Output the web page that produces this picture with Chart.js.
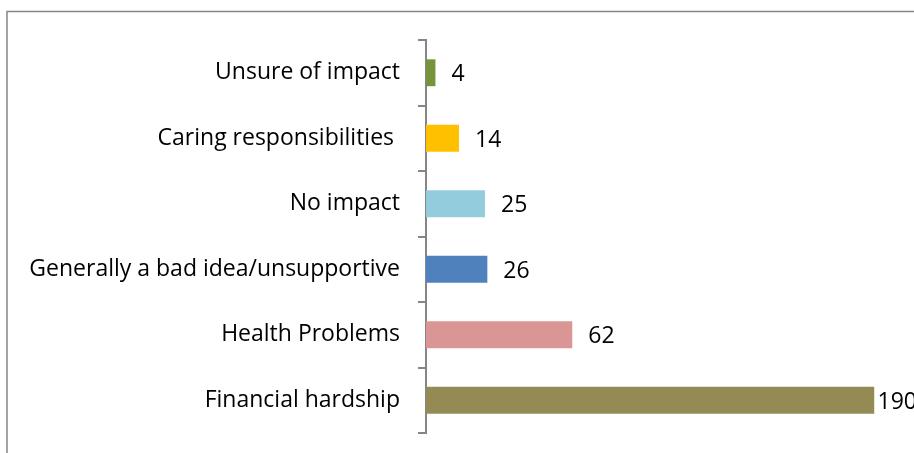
<!DOCTYPE html>
<html>
<head>
<meta charset="utf-8">
<script src="https://cdn.jsdelivr.net/npm/chart.js@4/dist/chart.umd.min.js"></script>
<style>
  html, body { margin: 0; padding: 0; background: #fff; overflow: hidden; }
  #wrap { width: 960px; height: 453px; position: relative; }
</style>
</head>
<body>
<div id="wrap"><canvas id="myChart"></canvas></div>
<script>
const categories = [
  'Unsure of impact',
  'Caring responsibilities ',
  'No impact',
  'Generally a bad idea/unsupportive',
  'Health Problems',
  'Financial hardship'
];
const counts = [4, 14, 25, 26, 62, 190];
const barColors = ['#77933C', '#FFC000', '#93CDDD', '#4F81BD', '#D99694', '#948A54'];

const labelFont = '23px "Open Sans", sans-serif';

// outer frame, running off the right and bottom edges
const framePlugin = {
  id: 'frame',
  beforeDraw(chart) {
    const c = chart.ctx;
    c.save();
    c.strokeStyle = '#868686';
    c.lineWidth = 1.5;
    c.strokeRect(7, 11.5, chart.width + 20, chart.height + 20);
    c.restore();
  }
};

// count printed just past the end of each bar
const valuePlugin = {
  id: 'values',
  afterDatasetsDraw(chart) {
    const c = chart.ctx;
    const meta = chart.getDatasetMeta(0);
    c.save();
    c.font = labelFont;
    c.fillStyle = '#000';
    c.textBaseline = 'middle';
    meta.data.forEach((bar, i) => {
      const txt = String(counts[i]);
      const w = c.measureText(txt).width;
      const x = Math.min(bar.x + 16, chart.chartArea.right - w - 28);
      c.fillText(txt, x, bar.y + 2);
    });
    c.restore();
  }
};

new Chart(document.getElementById('myChart'), {
  type: 'bar',
  data: {
    labels: categories,
    datasets: [{
      data: counts,
      backgroundColor: barColors,
      categoryPercentage: 1,
      barPercentage: 0.41
    }]
  },
  options: {
    indexAxis: 'y',
    responsive: true,
    maintainAspectRatio: false,
    animation: false,
    layout: { padding: { top: 40, bottom: 20, left: 0, right: 15 } },
    plugins: { legend: { display: false }, tooltip: { enabled: false } },
    scales: {
      x: { display: false, min: 0, max: 220 },
      y: {
        afterFit(scale) {
          scale.width = 426;
          scale.paddingTop = 0;
          scale.paddingBottom = 0;
        },
        border: { color: '#868686', width: 2 },
        grid: { drawOnChartArea: false, drawTicks: true, tickLength: 8, color: '#868686', lineWidth: 2, offset: true },
        ticks: { color: '#000', font: { family: '"Open Sans", sans-serif', size: 23 }, padding: 18 }
      }
    }
  },
  plugins: [framePlugin, valuePlugin]
});
</script>
</body>
</html>
